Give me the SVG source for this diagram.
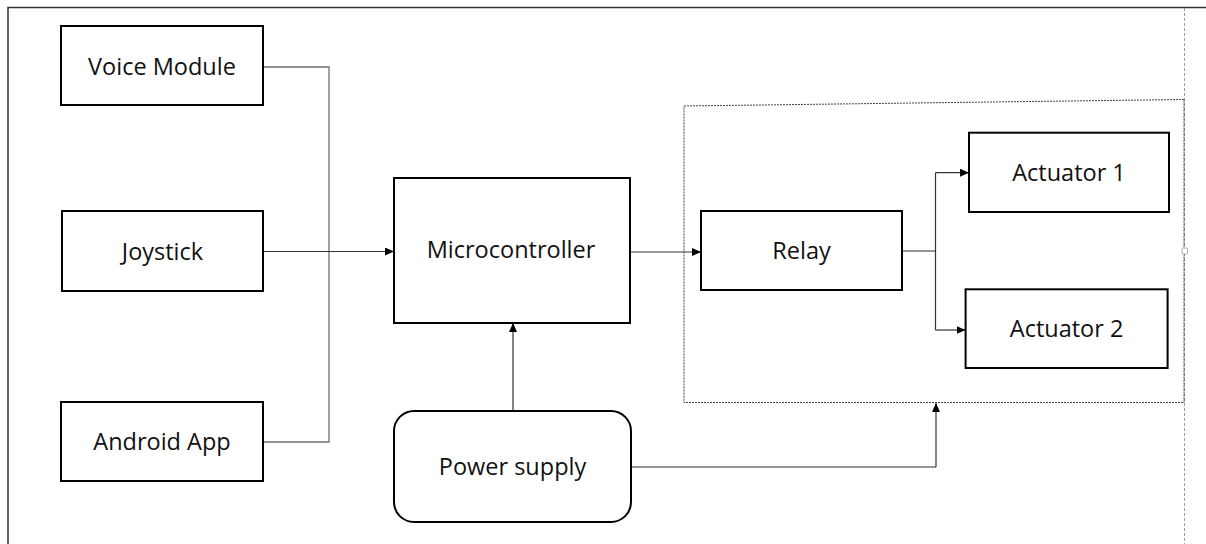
<svg xmlns="http://www.w3.org/2000/svg" width="1206" height="544" viewBox="0 0 1206 544">
<style>
.box{fill:#fff;stroke:#000;stroke-width:2}
.lbl{font-family:"Open Sans","Liberation Sans",sans-serif;font-size:23.5px;fill:#111;text-anchor:middle}
.con{fill:none;stroke:#333;stroke-width:1.2}
.gcon{fill:none;stroke:#6f6f6f;stroke-width:1.3}
</style>
<defs>
<marker id="arr" markerUnits="userSpaceOnUse" markerWidth="10" markerHeight="8" refX="9" refY="4" orient="auto">
<path d="M0,0 L9,4 L0,8 Z" fill="#000"/>
</marker>
</defs>
<rect width="1206" height="544" fill="#fff"/>
<g id="frame">
<path d="M8,544 V7.5 H1206" fill="none" stroke="#333" stroke-width="1.5"/>
<line x1="1184.5" y1="8" x2="1184.5" y2="544" stroke="#999" stroke-width="1" stroke-dasharray="3 2"/>
<path d="M684,106 L1184,99.5 L1184,402.5 L684,402.5 Z" fill="none" stroke="#444" stroke-width="1" stroke-dasharray="2 1"/>
<rect x="1182" y="248" width="5.5" height="6" rx="1" fill="#fff" stroke="#aaa" stroke-width="1"/>
</g>
<g id="connectors">
<path class="gcon" d="M263,67 H329 V442 H263"/>
<path class="con" d="M263,251.5 H394" marker-end="url(#arr)"/>
<path class="con" d="M631,252 H701" marker-end="url(#arr)"/>
<path class="con" d="M513,411 V323" marker-end="url(#arr)"/>
<path class="gcon" d="M902,251 H935.5"/>
<path class="con" d="M935.5,172.7 V330"/>
<path class="con" d="M935.5,172.7 H969" marker-end="url(#arr)"/>
<path class="con" d="M935.5,330 H965.5" marker-end="url(#arr)"/>
<path class="gcon" d="M631,467 H936"/>
<path class="con" d="M936,467 V403" marker-end="url(#arr)"/>
</g>
<g id="voice-module">
<rect class="box" x="61" y="26" width="202" height="79"/>
<text class="lbl" x="162" y="75">Voice Module</text>
</g>
<g id="joystick">
<rect class="box" x="62" y="211" width="201" height="80"/>
<text class="lbl" x="162.5" y="259.5">Joystick</text>
</g>
<g id="android-app">
<rect class="box" x="61" y="402" width="202" height="79"/>
<text class="lbl" x="162" y="450">Android App</text>
</g>
<g id="microcontroller">
<rect class="box" x="394" y="178" width="236" height="145"/>
<text class="lbl" x="511" y="258">Microcontroller</text>
</g>
<g id="relay">
<rect class="box" x="701" y="211" width="201" height="79"/>
<text class="lbl" x="801.5" y="259">Relay</text>
</g>
<g id="actuator-1">
<rect class="box" x="969" y="132.7" width="200" height="79.3"/>
<text class="lbl" x="1069" y="181">Actuator 1</text>
</g>
<g id="actuator-2">
<rect class="box" x="965.6" y="289.3" width="202" height="78.7"/>
<text class="lbl" x="1066.6" y="337">Actuator 2</text>
</g>
<g id="power-supply">
<rect class="box" x="394" y="411" width="237" height="111" rx="20"/>
<text class="lbl" x="512.5" y="475">Power supply</text>
</g>
</svg>
